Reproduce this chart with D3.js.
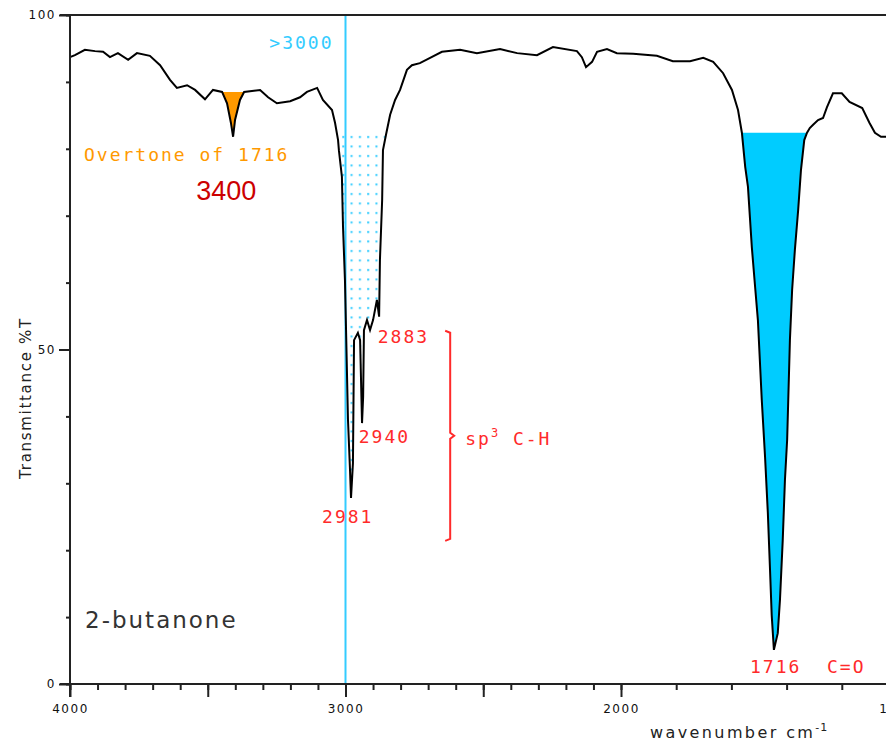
<!DOCTYPE html>
<html>
<head>
<meta charset="utf-8">
<script src="https://cdn.jsdelivr.net/npm/d3@7"></script>
<style>
  body { margin: 0; background: #fff; }
  svg { display: block; }
  .lbl { font-family: "DejaVu Sans Mono", monospace; font-size: 18px; letter-spacing: 2px; white-space: pre; }
  .tick text { font-family: "DejaVu Sans", sans-serif; font-size: 12px; fill: #111; letter-spacing: 1.5px; }
</style>
</head>
<body>
<div id="chart"></div>
<script>
// spectrum of 2-butanone
var wavenumbers = [4000, 3982, 3946, 3909, 3880, 3855, 3826, 3789, 3757, 3710,
  3673, 3637, 3612, 3575, 3546, 3510, 3481, 3448, 3430, 3416,
  3408, 3401, 3383, 3368, 3310, 3281, 3249, 3201, 3165, 3140,
  3103, 3082, 3049, 3038, 3027, 3024, 3013, 3009, 3002, 2998,
  2991, 2984, 2980, 2973, 2969, 2955, 2947, 2940, 2936, 2933,
  2922, 2911, 2900, 2886, 2878, 2875, 2867, 2864, 2853, 2838,
  2820, 2802, 2777, 2759, 2730, 2693, 2650, 2584, 2523, 2439,
  2377, 2305, 2247, 2160, 2142, 2127, 2105, 2087, 2051, 2015,
  1978, 1935, 1906, 1875, 1851, 1833, 1815, 1799, 1788, 1781,
  1775, 1770, 1763, 1757, 1752, 1745, 1739, 1734, 1730, 1727,
  1723, 1716, 1712, 1707, 1703, 1699, 1697, 1694, 1690, 1685,
  1679, 1674, 1668, 1663, 1658, 1652, 1643, 1634, 1627, 1616,
  1600, 1586, 1563, 1550, 1540, 1529, 1500];

var transmittance = [93.7, 94.0, 94.8, 94.6, 94.5, 93.7, 94.3, 93.3, 94.3, 93.9,
  92.5, 90.3, 89.1, 89.5, 88.8, 87.4, 88.8, 88.5, 86.8, 83.9,
  81.8, 84.3, 87.3, 88.5, 88.8, 87.7, 86.8, 87.1, 87.7, 88.5,
  89.1, 87.3, 85.8, 83.9, 81.3, 79.8, 75.8, 68.3, 60.4, 52.9,
  39.5, 32.4, 27.8, 33.0, 51.4, 52.5, 51.4, 39.0, 42.9, 52.9,
  54.4, 52.9, 54.4, 57.4, 54.9, 63.4, 72.3, 79.8, 82.1, 85.1,
  87.3, 88.8, 91.8, 92.5, 92.8, 93.6, 94.5, 94.8, 94.3, 94.9,
  94.3, 94.0, 95.2, 94.6, 93.7, 92.2, 93.0, 94.5, 94.9, 94.3,
  94.2, 93.9, 93.1, 93.1, 93.6, 93.0, 91.3, 88.8, 85.8, 82.4,
  77.3, 74.3, 65.3, 59.3, 54.4, 42.5, 33.9, 25.6, 17.0, 10.3,
  5.1, 7.6, 12.6, 21.5, 30.5, 36.5, 42.5, 51.4, 58.9, 64.9,
  70.9, 76.8, 81.3, 82.4, 83.1, 83.6, 84.3, 84.6, 86.2, 88.3,
  88.3, 87.0, 86.1, 83.9, 82.4, 81.8, 81.8];

// highlighted bands: [from, to, level %T]
var overtoneBand = [3448, 3368, 88.5];
var chBand = [3035, 2853, 82.4];
var carbonylBand = [1781, 1663, 82.4];

var xMajorLabels = [4000, 3000, 2000, 1500];
var yLabels = [0, 50, 100];

var peakLabels = [
  { text: "2883", w: 2883, t: 51.0 },
  { text: "2940", w: 2952, t: 36.0 },
  { text: "2981", w: 3085, t: 24.0 }
];

var data = wavenumbers.map(function (w, i) {
  return { w: w, t: transmittance[i] };
});

var svg = d3.select("#chart").append("svg")
  .attr("width", 886)
  .attr("height", 744);

// IR charts switch to double scale below 2000 cm-1
var x = d3.scaleLinear().domain([4000, 2000, 1500]).range([70, 621, 897]);
var y = d3.scaleLinear().domain([0, 100]).range([684, 15]);

// dotted pattern
var defs = svg.append("defs");
var pat = defs.append("pattern")
  .attr("id", "dots")
  .attr("patternUnits", "userSpaceOnUse")
  .attr("width", 8.3)
  .attr("height", 9.5);
pat.append("rect").attr("x", 2).attr("y", 3).attr("width", 2).attr("height", 2).attr("fill", "#33ccff");

var bandArea = function (band) {
  var lvl = band[2];
  var pts = data.filter(function (d) { return d.w <= band[0] && d.w >= band[1]; });
  return d3.area()
    .x(function (d) { return x(d.w); })
    .y0(y(lvl))
    .y1(function (d) { return y(Math.min(d.t, lvl)); })(pts);
};

svg.append("path").attr("d", bandArea(overtoneBand)).attr("fill", "#ff9900");
svg.append("path").attr("d", bandArea(carbonylBand)).attr("fill", "#00ccff");
svg.append("path").attr("d", bandArea(chBand)).attr("fill", "url(#dots)");

// 3000 line
svg.append("line")
  .attr("x1", x(3000)).attr("x2", x(3000))
  .attr("y1", y(100)).attr("y2", y(0))
  .attr("stroke", "#33ccff").attr("stroke-width", 2);

// spectrum
svg.append("path")
  .datum(data)
  .attr("fill", "none")
  .attr("stroke", "#000")
  .attr("stroke-width", 2)
  .attr("stroke-linejoin", "miter")
  .attr("d", d3.line().x(function (d) { return x(d.w); }).y(function (d) { return y(d.t); }));

// axes
var minorX = d3.range(4000, 1499, -100);
var majorX = d3.range(4000, 1499, -500);

svg.append("g")
  .attr("transform", "translate(0," + y(0) + ")")
  .call(d3.axisBottom(x).tickValues(minorX).tickSize(6).tickFormat("").tickSizeOuter(0))
  .call(function (g) { g.select(".domain").remove(); g.selectAll("line").attr("stroke-width", 2).attr("stroke", "#222"); });

svg.append("g")
  .attr("transform", "translate(0," + y(0) + ")")
  .call(d3.axisBottom(x).tickValues(majorX).tickSize(13).tickSizeOuter(0)
    .tickFormat(function (d) { return xMajorLabels.indexOf(d) >= 0 ? d : ""; }))
  .call(function (g) {
    g.select(".domain").remove();
    g.selectAll("line").attr("stroke-width", 2).attr("stroke", "#222");
    g.selectAll("text").attr("y", 20);
  });

svg.append("g")
  .attr("transform", "translate(" + x(4000) + ",0)")
  .call(d3.axisLeft(y).tickValues(d3.range(0, 101, 10)).tickSize(4).tickFormat("").tickSizeOuter(0))
  .call(function (g) { g.select(".domain").remove(); g.selectAll("line").attr("stroke-width", 2).attr("stroke", "#222"); });

svg.append("g")
  .attr("transform", "translate(" + x(4000) + ",0)")
  .call(d3.axisLeft(y).tickValues(yLabels).tickSize(11).tickSizeOuter(0))
  .call(function (g) {
    g.select(".domain").remove();
    g.selectAll("line").attr("stroke-width", 2).attr("stroke", "#222");
    g.selectAll("text").attr("x", -14);
  });

// frame lines
svg.append("line").attr("x1", 60).attr("x2", 886).attr("y1", y(100)).attr("y2", y(100))
  .attr("stroke", "#222").attr("stroke-width", 2);
svg.append("line").attr("x1", 60).attr("x2", 886).attr("y1", y(0)).attr("y2", y(0))
  .attr("stroke", "#222").attr("stroke-width", 2);
svg.append("line").attr("x1", x(4000)).attr("x2", x(4000)).attr("y1", y(100)).attr("y2", y(0) + 13)
  .attr("stroke", "#222").attr("stroke-width", 2);

// axis titles
svg.append("text")
  .attr("transform", "translate(31," + 398 + ") rotate(-90)")
  .attr("text-anchor", "middle")
  .style("font-family", "DejaVu Sans, sans-serif")
  .style("font-size", "15px")
  .style("letter-spacing", "1.7px")
  .attr("fill", "#222")
  .text("Transmittance %T");

var xt = svg.append("text")
  .attr("x", 650).attr("y", 738)
  .style("font-family", "DejaVu Sans, sans-serif")
  .style("font-size", "16px")
  .style("letter-spacing", "2.4px")
  .attr("fill", "#222");
xt.append("tspan").text("wavenumber cm");
xt.append("tspan").attr("dy", -7).style("font-size", "11px").style("letter-spacing", "1px").text("-1");

// annotations
svg.append("text").attr("class", "lbl")
  .attr("x", x(3000) - 12).attr("y", 49)
  .attr("text-anchor", "end").attr("fill", "#33ccff")
  .text(">3000");

svg.append("text").attr("class", "lbl")
  .attr("x", 84).attr("y", 161)
  .attr("fill", "#ff9900")
  .text("Overtone of 1716");

svg.append("text")
  .attr("x", x(3400) - 9).attr("y", 200)
  .attr("text-anchor", "middle")
  .style("font-family", "Liberation Sans, Arial, sans-serif")
  .style("font-size", "27px")
  .attr("fill", "#cc0000")
  .text("3400");

svg.selectAll(".peak")
  .data(peakLabels)
  .enter()
  .append("text")
  .attr("class", "lbl peak")
  .attr("x", function (d) { return x(d.w); })
  .attr("y", function (d) { return y(d.t); })
  .attr("fill", "#ff2a2a")
  .text(function (d) { return d.text; });

// bracket
var bx = x(2620), bTop = y(52.8), bBot = y(21.4), bMid = (bTop + bBot) / 2;
svg.append("path")
  .attr("d", "M" + (bx - 5) + "," + bTop + " L" + bx + "," + (bTop + 2) +
    " L" + bx + "," + (bMid - 3) + " L" + (bx + 4) + "," + bMid + " L" + bx + "," + (bMid + 3) +
    " L" + bx + "," + (bBot - 2) + " L" + (bx - 5) + "," + bBot)
  .attr("fill", "none").attr("stroke", "#ff2a2a").attr("stroke-width", 2);

var sp = svg.append("text").attr("class", "lbl")
  .attr("x", bx + 15).attr("y", bMid + 9)
  .attr("fill", "#ff2a2a");
sp.append("tspan").text("sp");
sp.append("tspan").attr("dy", -8).style("font-size", "12px").text("3");
sp.append("tspan").attr("dy", 8).text(" C-H");

svg.append("text").attr("class", "lbl")
  .attr("x", 750).attr("y", 673)
  .attr("fill", "#ff2a2a")
  .text("1716  C=O");

svg.append("text")
  .attr("x", 85).attr("y", 628)
  .style("font-family", "DejaVu Sans, sans-serif")
  .style("font-size", "23px")
  .style("letter-spacing", "2px")
  .attr("fill", "#333")
  .text("2-butanone");
</script>
</body>
</html>
